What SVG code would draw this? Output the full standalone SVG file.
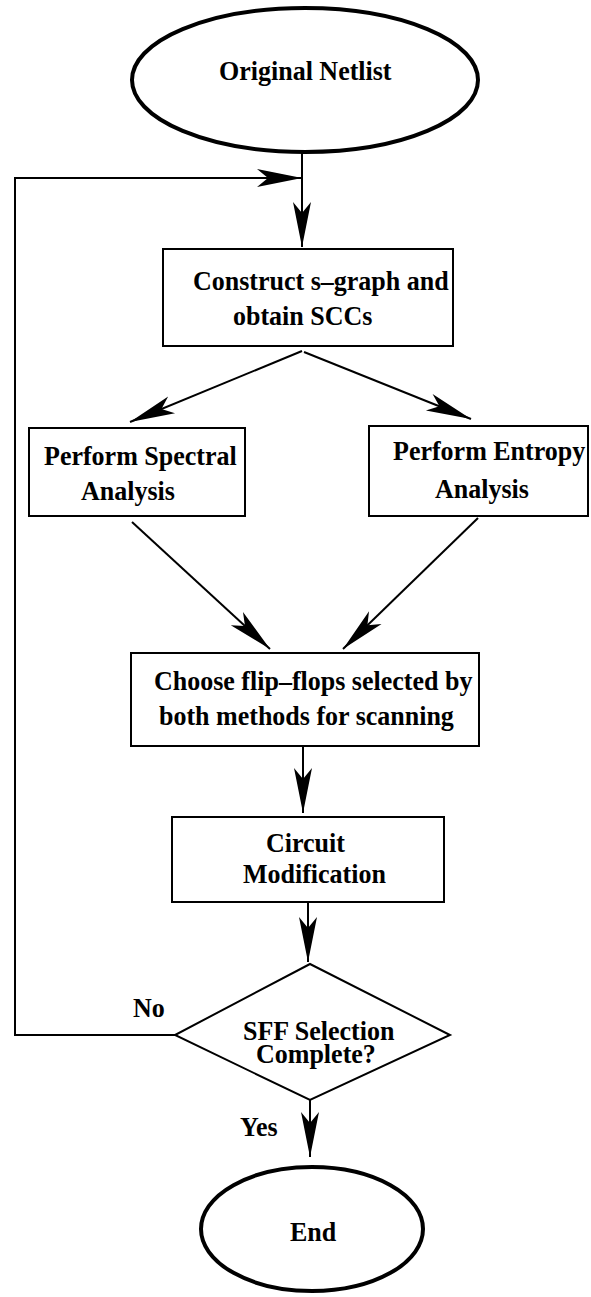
<svg xmlns="http://www.w3.org/2000/svg" width="591" height="1297" viewBox="0 0 591 1297">
  <style>
    .term { fill: #fff; stroke: #000; stroke-width: 4; }
    .box { fill: #fff; stroke: #000; stroke-width: 2; }
    .wire { fill: none; stroke: #000; stroke-width: 2; }
    text { font-family: "Liberation Serif", "Times New Roman", serif; font-weight: bold; font-size: 26px; fill: #000; }
  </style>
  <defs>
    <marker id="head" markerUnits="userSpaceOnUse" viewBox="-46 -10 47 20" markerWidth="47" markerHeight="20" refX="0" refY="0" orient="auto">
      <path d="M0,0 L-45,-9 L-34,0 L-45,9 Z" fill="#000"/>
    </marker>
  </defs>

  <g id="connectors">
    <line class="wire" x1="302" y1="152" x2="302" y2="247" marker-end="url(#head)"/>
    <polyline class="wire" points="175,1035 15,1035 15,178 302,178" marker-end="url(#head)"/>
    <line class="wire" x1="302" y1="351" x2="130" y2="422" marker-end="url(#head)"/>
    <line class="wire" x1="304" y1="352" x2="471" y2="419" marker-end="url(#head)"/>
    <line class="wire" x1="132" y1="522" x2="270" y2="649" marker-end="url(#head)"/>
    <line class="wire" x1="478" y1="518" x2="343" y2="649" marker-end="url(#head)"/>
    <line class="wire" x1="303" y1="746" x2="303" y2="813" marker-end="url(#head)"/>
    <line class="wire" x1="308" y1="902" x2="308" y2="962" marker-end="url(#head)"/>
    <line class="wire" x1="310" y1="1100" x2="310" y2="1157" marker-end="url(#head)"/>
  </g>

  <g id="start">
    <ellipse class="term" cx="305" cy="80" rx="173" ry="72"/>
    <text transform="translate(219 80) scale(1 1.06)">Original Netlist</text>
  </g>

  <g id="construct">
    <rect class="box" x="163" y="249" width="290" height="97"/>
    <text transform="translate(193 290) scale(1 1.06)">Construct s–graph and</text>
    <text transform="translate(233 325) scale(1 1.06)">obtain SCCs</text>
  </g>

  <g id="spectral">
    <rect class="box" x="29" y="428" width="216" height="88"/>
    <text transform="translate(44 465) scale(1 1.06)">Perform Spectral</text>
    <text transform="translate(81 500) scale(1 1.06)">Analysis</text>
  </g>

  <g id="entropy">
    <rect class="box" x="369" y="426" width="219" height="90"/>
    <text transform="translate(393 460) scale(1 1.06)">Perform Entropy</text>
    <text transform="translate(435 498) scale(1 1.06)">Analysis</text>
  </g>

  <g id="choose">
    <rect class="box" x="131" y="653" width="348" height="93"/>
    <text transform="translate(154 690) scale(1 1.06)">Choose flip–flops selected by</text>
    <text transform="translate(159 725) scale(1 1.06)">both methods for scanning</text>
  </g>

  <g id="modify">
    <rect class="box" x="172" y="817" width="272" height="85"/>
    <text transform="translate(266 852) scale(1 1.06)">Circuit</text>
    <text transform="translate(243 883) scale(1 1.06)">Modification</text>
  </g>

  <g id="decision">
    <polygon class="box" points="310,964 450,1035 310,1100 175,1035"/>
    <text transform="translate(243 1040) scale(1 1.06)">SFF Selection</text>
    <text transform="translate(256 1063) scale(1 1.06)">Complete?</text>
  </g>

  <g id="labels">
    <text transform="translate(133 1017) scale(1 1.06)">No</text>
    <text transform="translate(240 1136) scale(1 1.06)">Yes</text>
  </g>

  <g id="end">
    <ellipse class="term" cx="312" cy="1229" rx="111" ry="62"/>
    <text transform="translate(290 1241) scale(1 1.06)">End</text>
  </g>
</svg>
